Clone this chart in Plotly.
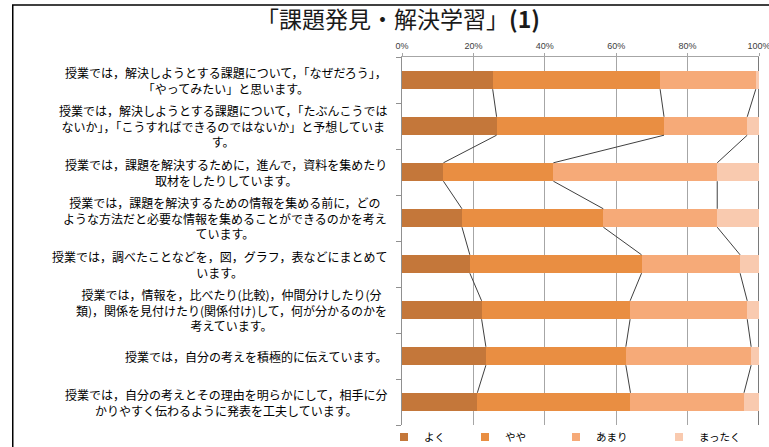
import plotly.graph_objects as go

# ---------------- data ----------------
categories = [
    "授業では，解決しようとする課題について，「なぜだろう」，<br>「やってみたい」と思います。",
    "授業では，解決しようとする課題について，「たぶんこうでは<br>ないか」，「こうすればできるのではないか」と予想していま<br>す。",
    "授業では，課題を解決するために，進んで，資料を集めたり<br>取材をしたりしています。",
    "授業では，課題を解決するための情報を集める前に，どの<br>ような方法だと必要な情報を集めることができるのかを考え<br>ています。",
    "授業では，調べたことなどを，図，グラフ，表などにまとめて<br>います。",
    "授業では，情報を，比べたり(比較)，仲間分けしたり(分<br>類)，関係を見付けたり(関係付け)して，何が分かるのかを<br>考えています。",
    "授業では，自分の考えを積極的に伝えています。",
    "授業では，自分の考えとその理由を明らかにして，相手に分<br>かりやすく伝わるように発表を工夫しています。",
]
series_names = ["よく", "やや", "あまり", "まったく"]
yoku     = [25.4, 26.5, 11.6, 16.8, 19.0, 22.3, 23.5, 21.1]
yaya     = [46.9, 46.9, 30.8, 39.6, 48.1, 41.6, 39.2, 42.9]
amari    = [26.8, 23.3, 45.9, 31.9, 27.6, 32.8, 35.1, 31.8]
mattaku  = [0.9, 3.3, 11.7, 11.7, 5.3, 3.3, 2.2, 4.2]
x_ticks = [0, 20, 40, 60, 80, 100]
x_tick_labels = ["0%", "20%", "40%", "60%", "80%", "100%"]
title_text = "「課題発見・解決学習」<b>(1)</b>"

colors = ["#C4773A", "#E98E42", "#F6AA78", "#F9CAAF"]
series = [yoku, yaya, amari, mattaku]

# ---------------- geometry ----------------
W, H = 769, 447
L, R, T, B = 402, 759, 57, 425
def px_x(p):
    return (p - L) / (R - L)
def px_y(p):
    return (B - p) / (B - T)

n = len(categories)
ypos = list(range(n))
bar_w = 0.4

fig = go.Figure()
for name, vals, col in zip(series_names, series, colors):
    fig.add_trace(go.Bar(
        y=ypos, x=vals, name=name, orientation="h", width=bar_w,
        marker=dict(color=col, line=dict(width=0)), showlegend=False,
        hoverinfo="x+name",
    ))

# series lines (connect segment boundaries between adjacent bars)
cums = []
acc = [0.0] * n
for vals in series[:-1]:
    acc = [a + v for a, v in zip(acc, vals)]
    cums.append(acc)
for c in cums:
    xs, ys = [], []
    for i in range(n - 1):
        xs += [c[i], c[i + 1], None]
        ys += [i + bar_w / 2, i + 1 - bar_w / 2, None]
    fig.add_trace(go.Scatter(x=xs, y=ys, mode="lines",
                             line=dict(color="#404040", width=1),
                             showlegend=False, hoverinfo="skip"))

# legend entries (separate legends to place each item)
legend_names = ["legend", "legend2", "legend3", "legend4"]
legend_sym_px = [402, 483, 574, 677]
for name, col, lg in zip(series_names, colors, legend_names):
    fig.add_trace(go.Scatter(x=[None], y=[None], mode="markers", name=name,
                             marker=dict(symbol="square", size=8, color=col),
                             legend=lg, showlegend=True))

legend_layout = {}
for lg, sp in zip(legend_names, legend_sym_px):
    legend_layout[lg] = dict(
        x=px_x(sp - 18), xanchor="left", y=px_y(437), yanchor="middle",
        orientation="h", bgcolor="rgba(0,0,0,0)", borderwidth=0,
        font=dict(family="Noto Sans CJK JP", size=10.5, color="#000000"),
        itemwidth=30,
    )

# category labels as centered multi-line annotations
fsz = 12
annotations = []
for i, lab in enumerate(categories):
    annotations.append(dict(
        x=0, xref="paper", y=i, yref="y", text=lab, showarrow=False,
        xanchor="right", yanchor="middle", xshift=-14, align="center",
        borderpad=0,
        font=dict(family="Noto Sans CJK JP", size=fsz, color="#000000"),
    ))
# mask left of chart frame
annotations.append(dict(
    x=px_x(0), xref="paper", y=px_y(H / 2), yref="paper", text=" ",
    showarrow=False, xanchor="left", yanchor="middle", width=12, height=H + 20,
    bgcolor="#FFFFFF", borderpad=0, borderwidth=0,
))

shapes = [
    # chart frame (left + top)
    dict(type="line", xref="paper", yref="paper", x0=px_x(12.7), x1=px_x(12.7),
         y0=px_y(5), y1=px_y(H + 5), line=dict(color="#000000", width=1.6)),
    dict(type="line", xref="paper", yref="paper", x0=px_x(12), x1=px_x(W + 5),
         y0=px_y(5), y1=px_y(5), line=dict(color="#000000", width=1.6)),
    # darker line at 100%
    dict(type="line", xref="x", yref="paper", x0=100, x1=100, y0=0, y1=1,
         line=dict(color="#595959", width=1.6), layer="below"),
]

fig.update_layout(
    width=W, height=H,
    margin=dict(l=L, r=W - R, t=T, b=H - B, pad=0, autoexpand=False),
    paper_bgcolor="#FFFFFF", plot_bgcolor="#FFFFFF",
    barmode="stack",
    title=dict(text=title_text, x=398 / W, xref="container", xanchor="center",
               y=1 - 20 / H, yref="container", yanchor="middle",
               font=dict(family="Noto Sans CJK JP, Liberation Sans", size=23, color="#1A1A1A")),
    xaxis=dict(range=[0, 100], side="top", tickvals=x_ticks, ticktext=x_tick_labels,
               showgrid=True, gridcolor="#A6A6A6", gridwidth=1,
               showline=True, linecolor="#A6A6A6", linewidth=1,
               ticks="outside", ticklen=3, tickcolor="#A6A6A6",
               ticklabeloverflow="allow",
               tickfont=dict(family="Liberation Sans", size=9, color="#404040"),
               zeroline=False, fixedrange=True, automargin=False),
    yaxis=dict(range=[n - 0.5, -0.5], tickvals=[k - 0.5 for k in range(n + 1)],
               showticklabels=False, ticks="outside", ticklen=5, tickcolor="#909090",
               showline=True, linecolor="#909090", linewidth=1.3,
               showgrid=False, zeroline=False, fixedrange=True, automargin=False),
    annotations=annotations,
    shapes=shapes,
    **legend_layout,
)

fig.write_html("out.html", config={"displayModeBar": False},
               post_script="document.body.style.margin='0px';document.body.style.overflow='hidden';")
